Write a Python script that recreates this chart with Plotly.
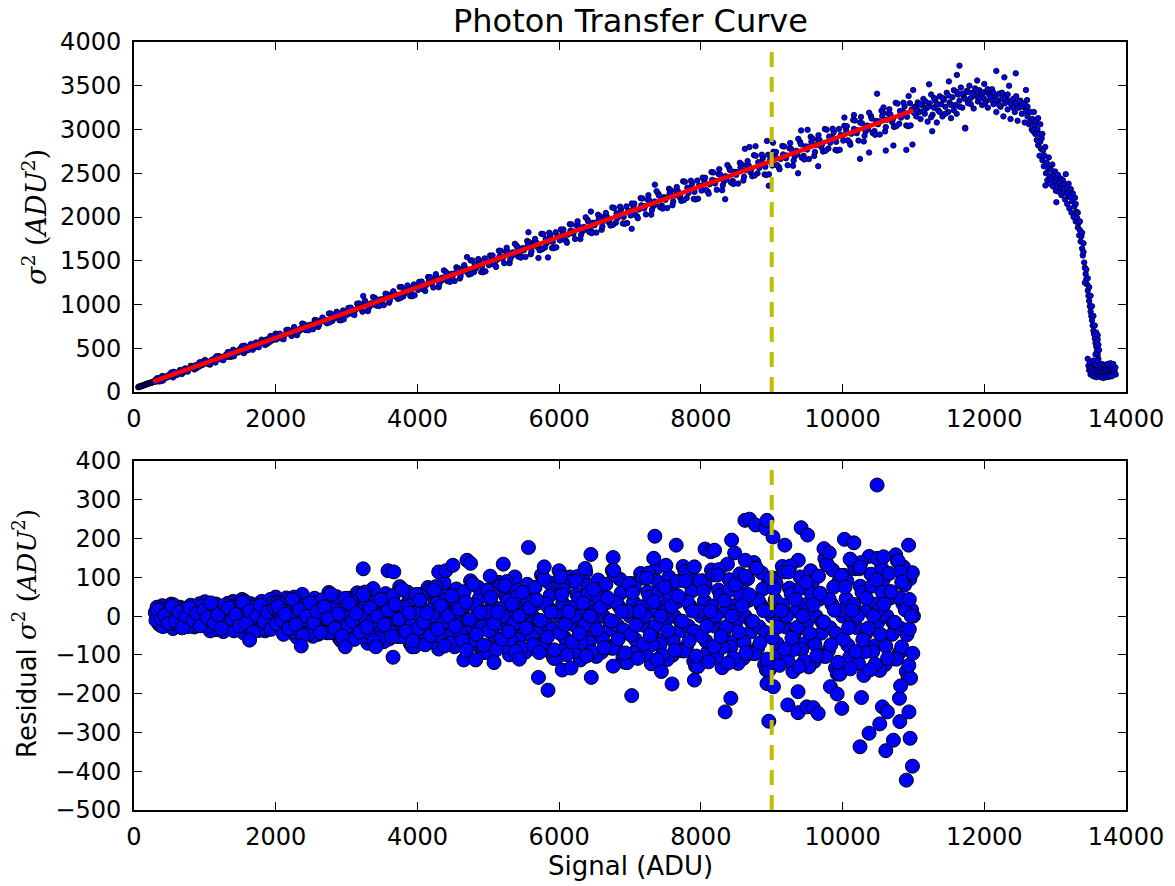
import plotly.graph_objects as go

# ---------------- Data ----------------
# Top panel: variance (ADU^2) vs signal (ADU), as (signal, variance) pairs
top_low = [(60,55),(70,62),(80,58),(90,66),(100,64),(110,72),(120,70),(130,78),(140,76),(150,84),
           (160,82),(170,90),(180,88),(190,96),(200,94),(210,101),(220,99),(230,106),(240,104),
           (250,112),(260,110),(270,118),(285,116)]
top_a = [(300,136),(350,121),(400,183),(450,164),(500,200),(550,167),(600,216),(650,251),(700,225),
         (750,254),(800,299),(850,258),(900,314),(950,304),(1000,366),(1050,320),(1100,366),(1150,337),
         (1200,410),(1250,401),(1300,428),(1350,401),(1400,483),(1450,451),(1500,496),(1550,444),
         (1600,507),(1650,549),(1700,508),(1750,541),(1800,598),(1850,537),(1900,608),(1950,590),(2000,667)]
top_a_mid = [(325,157),(375,124),(425,175),(475,168),(525,223),(575,187),(625,227),(675,205),(725,270),
             (775,264),(825,288),(875,268),(925,339),(975,315),(1025,355),(1075,313),(1125,369),(1175,407),
             (1225,374),(1275,404),(1325,456),(1375,404),(1425,469),(1475,453),(1525,524),(1575,469),
             (1625,519),(1675,483),(1725,567),(1775,553),(1825,581),(1875,549),(1925,639),(1975,601)]
top_a_e = [(310,119),(360,162),(410,131),(460,179),(510,187),(560,231),(610,197),(660,224),(710,262),
           (760,233),(810,277),(860,303),(910,285),(960,343),(1010,328),(1060,320),(1110,372),(1160,406),
           (1210,378),(1260,364),(1310,403),(1360,458),(1410,409),(1460,471),(1510,476),(1560,530),
           (1610,478),(1660,511),(1710,557),(1760,512),(1810,568),(1860,597),(1910,568),(1960,640)]
top_b = [(2050,647),(2100,611),(2150,708),(2200,665),(2250,717),(2300,650),(2350,725),(2400,773),(2450,720),
         (2500,757),(2550,823),(2600,744),(2650,830),(2700,802),(2750,896),(2800,812),(2850,877),(2900,820),
         (2950,931),(3000,907),(3050,941),(3100,889),(3150,1010),(3200,951),(3250,1014),(3300,924),(3350,1015),
         (3400,1073),(3450,1001),(3500,1045),(3550,1124),(3600,1021),(3650,1125),(3700,1086),(3750,1200),
         (3800,1092),(3850,1169),(3900,1096),(3950,1229),(4000,1196),(4050,1234),(4100,1168),(4150,1313),
         (4200,1237),(4250,1310),(4300,1198),(4350,1306),(4400,1372),(4450,1283),(4500,1332),(4550,1425),
         (4600,1298),(4650,1420),(4700,1371),(4750,1504),(4800,1372),(4850,1461),(4900,1371),(4950,1527),
         (5000,1485),(5050,1528),(5100,1446),(5150,1615),(5200,1523),(5250,1607),(5300,1472),(5350,1596),
         (5400,1672),(5450,1564),(5500,1620),(5550,1726),(5600,1575),(5650,1715),(5700,1655),(5750,1808),
         (5800,1652),(5850,1753),(5900,1647),(5950,1825),(6000,1774)]
top_b_mid = [(2025,660),(2075,614),(2125,649),(2175,711),(2225,641),(2275,719),(2325,696),(2375,782),(2425,707),
             (2475,766),(2525,718),(2575,819),(2625,799),(2675,831),(2725,785),(2775,898),(2825,844),(2875,903),
             (2925,821),(2975,907),(3025,960),(3075,896),(3125,936),(3175,1012),(3225,918),(3275,1015),
             (3325,980),(3375,1086),(3425,987),(3475,1058),(3525,993),(3575,1117),(3625,1088),(3675,1125),
             (3725,1064),(3775,1200),(3825,1130),(3875,1199),(3925,1095),(3975,1197),(4025,1259),(4075,1178),
             (4125,1224),(4175,1313),(4225,1195),(4275,1309),(4325,1265),(4375,1390),(4425,1267),(4475,1350),
             (4525,1269),(4575,1415),(4625,1377),(4675,1418),(4725,1342),(4775,1503),(4825,1416),(4875,1496),
             (4925,1369),(4975,1488),(5025,1559),(5075,1459),(5125,1511),(5175,1614),(5225,1472),(5275,1604),
             (5325,1549),(5375,1694),(5425,1547),(5475,1642),(5525,1544),(5575,1713),(5625,1666),(5675,1712),
             (5725,1620),(5775,1805),(5825,1702),(5875,1792),(5925,1643),(5975,1778)]
top_b_e = [(2010,601),(2060,666),(2110,603),(2160,674),(2210,679),(2260,742),(2310,675),(2360,711),(2410,764),
           (2460,705),(2510,771),(2560,803),(2610,764),(2660,851),(2710,817),(2760,795),(2810,871),(2860,917),
           (2910,862),(2960,831),(3010,884),(3060,964),(3110,879),(3160,966),(3210,968),(3260,1044),(3310,955),
           (3360,997),(3410,1061),(3460,982),(3510,1061),(3560,1098),(3610,1046),(3660,1151),(3710,1104),
           (3760,1074),(3810,1164),(3860,1218),(3910,1146),(3960,1105),(4010,1167),(4060,1262),(4110,1154),
           (4160,1258),(4210,1257),(4260,1347),(4310,1235),(4360,1283),(4410,1357),(4460,1259),(4510,1352),
           (4560,1393),(4610,1327),(4660,1450),(4710,1392),(4760,1352),(4810,1458),(4860,1519),(4910,1431),
           (4960,1379),(5010,1450),(5060,1560),(5110,1430),(5160,1550),(5210,1546),(5260,1649),(5310,1515),
           (5360,1569),(5410,1654),(5460,1536),(5510,1642),(5560,1688),(5610,1609),(5660,1750),(5710,1679),
           (5760,1631),(5810,1751),(5860,1820),(5910,1715),(5960,1653)]
top_c = [(6050,1821),(6100,1725),(6150,1918),(6200,1810),(6250,1902),(6300,1748),(6350,1886),(6400,1970),
         (6450,1847),(6500,1907),(6550,2026),(6600,1854),(6650,2009),(6700,1941),(6750,2109),(6800,1934),
         (6850,2044),(6900,1927),(6950,2121),(7000,2063),(7050,2113),(7100,2007),(7150,2216),(7200,2097),
         (7250,2197),(7300,2027),(7350,2176),(7400,2266),(7450,2131),(7500,2196),(7550,2323),(7600,2135),
         (7650,2302),(7700,2227),(7750,2408),(7800,2217),(7850,2335),(7900,2207),(7950,2416),(8000,2352),
         (8050,2405),(8100,2289),(8150,2514),(8200,2384),(8250,2491),(8300,2306),(8350,2466),(8400,2562),
         (8450,2415),(8500,2483),(8550,2620),(8600,2416),(8650,2595),(8700,2513),(8750,2707),(8800,2500),
         (8850,2626),(8900,2487),(8950,2711),(9000,2641),(9050,2697),(9100,2571),(9150,2812),(9200,2671),
         (9250,2785),(9300,2585),(9350,2756),(9400,2858),(9450,2699),(9500,2771),(9550,2917),(9600,2697),
         (9650,2888),(9700,2799),(9750,3006),(9800,2783),(9850,2917),(9900,2767),(9950,3006),(10000,2930),
         (10050,2989),(10100,2853),(10150,3110),(10200,2958),(10250,3079),(10300,2864),(10350,3046),
         (10400,3154),(10450,2983),(10500,3060),(10550,3214),(10600,2978),(10650,3181),(10700,3085),
         (10750,3305),(10800,3066),(10850,3208),(10900,3047),(10950,3301),(11000,3219)]
top_c_mid = [(6025,1858),(6075,1741),(6125,1799),(6175,1915),(6225,1749),(6275,1898),(6325,1834),(6375,1996),
             (6425,1829),(6475,1934),(6525,1822),(6575,2010),(6625,1955),(6675,2004),(6725,1902),(6775,2104),
             (6825,1988),(6875,2087),(6925,1922),(6975,2068),(7025,2154),(7075,2025),(7125,2087),(7175,2212),
             (7225,2030),(7275,2191),(7325,2120),(7375,2295),(7425,2112),(7475,2225),(7525,2103),(7575,2305),
             (7625,2244),(7675,2296),(7725,2184),(7775,2402),(7825,2275),(7875,2381),(7925,2201),(7975,2358),
             (8025,2450),(8075,2309),(8125,2375),(8175,2509),(8225,2311),(8275,2484),(8325,2406),(8375,2594),
             (8425,2395),(8475,2516),(8525,2382),(8575,2600),(8625,2533),(8675,2588),(8725,2466),(8775,2700),
             (8825,2562),(8875,2675),(8925,2480),(8975,2648),(9025,2746),(9075,2593),(9125,2663),(9175,2806),
             (9225,2592),(9275,2777),(9325,2692),(9375,2893),(9425,2678),(9475,2807),(9525,2662),(9575,2895),
             (9625,2822),(9675,2880),(9725,2748),(9775,2998),(9825,2849),(9875,2969),(9925,2759),(9975,2938),
             (10025,3042),(10075,2877),(10125,2951),(10175,3103),(10225,2873),(10275,3070),(10325,2978),
             (10375,3192),(10425,2961),(10475,3098),(10525,2942),(10575,3190),(10625,3111),(10675,3172),
             (10725,3030),(10775,3296),(10825,3136),(10875,3263),(10925,3038),(10975,3228)]
top_c_e = [(6010,1733),(6060,1858),(6110,1706),(6160,1842),(6210,1835),(6260,1951),(6310,1796),(6360,1855),
           (6410,1949),(6460,1815),(6510,1933),(6560,1982),(6610,1892),(6660,2047),(6710,1967),(6760,1911),
           (6810,2043),(6860,2118),(6910,2001),(6960,1931),(7010,2018),(7060,2153),(7110,1986),(7160,2133),
           (7210,2124),(7260,2249),(7310,2079),(7360,2142),(7410,2243),(7460,2096),(7510,2223),(7560,2275),
           (7610,2176),(7660,2343),(7710,2255),(7760,2193),(7810,2335),(7860,2415),(7910,2287),(7960,2210),
           (8010,2303),(8060,2448),(8110,2266),(8160,2424),(8210,2413),(8260,2547),(8310,2362),(8360,2429),
           (8410,2537),(8460,2377),(8510,2513),(8560,2568),(8610,2460),(8660,2639),(8710,2543),(8760,2475),
           (8810,2627),(8860,2712),(8910,2573),(8960,2489),(9010,2588),(9060,2743),(9110,2546),(9160,2715),
           (9210,2702),(9260,2845),(9310,2645),(9360,2716),(9410,2831),(9460,2658),(9510,2803),(9560,2861),
           (9610,2744),(9660,2935),(9710,2831),(9760,2757),(9810,2919),(9860,3009),(9910,2859),(9960,2768),
           (10010,2873),(10060,3038),(10110,2826),(10160,3006),(10210,2991),(10260,3143),(10310,2928),
           (10360,3003),(10410,3125),(10460,2939),(10510,3093),(10560,3154),(10610,3028),(10660,3231),
           (10710,3119),(10760,3039),(10810,3211),(10860,3306),(10910,3145),(10960,3047)]
top_outliers = [(3235,1097),(4700,1542),(5567,1826),(5708,1532),(5843,1538),(6448,2062),(7024,1865),
                (7351,2370),(8343,2204),(8622,2779),(8686,2800),(8772,2810),(8933,2869),(8959,2358),
                (9018,2850),(9372,2500),(9415,2989),(9506,2996),(9656,2580),(10026,3136),(10160,3165),
                (10246,2664),(10374,2736),(10487,3409),(10578,3252),(10610,2759),(10717,2817),
                (10900,2767),(10932,3382),(10986,2828)]
top_peak = [(11020,3260),(11040,3150),(11060,3310),(11080,3200),(11100,3120),(11120,3280),(11140,3350),
            (11160,3180),(11180,3240),(11200,3090),(11230,3300),(11250,3400),(11270,3170),(11290,3250),
            (11310,3330),(11330,3080),(11350,3220),(11370,3380),(11390,3290),(11410,3150),(11430,3340),
            (11450,3260),(11470,3420),(11490,3200),(11510,3310),(11530,3130),(11550,3370),(11570,3450),
            (11590,3280),(11610,3180),(11630,3400),(11650,3330),(11670,3480),(11690,3250),(11710,3380),
            (11730,3020),(11750,3440),(11770,3300),(11790,3500),(11810,3360),(11830,3420),(11850,3240),
            (11870,3470),(11890,3380),(11910,3320),(11930,3450),(11950,3400),(11970,3280),(11990,3360),
            (12010,3430),(12030,3330),(12050,3250),(12070,3400),(12090,3340),(12110,3460),(12130,3290),
            (12150,3380),(12170,3200),(12190,3320),(12210,3410),(12230,3260),(12250,3350),(12270,3150),
            (12290,3300),(12310,3390),(12330,3230),(12350,3330),(12370,3120),(12390,3280),(12410,3350),
            (12430,3200),(12450,3300),(12470,3100),(12490,3250),(12510,3330),(12530,3180),(12550,3260),
            (12570,3080),(12590,3210),(12610,3150),(12630,3060),(12650,3200),(12670,3000)]
top_peak_mid = [(11010,3190),(11050,3230),(11090,3290),(11130,3210),(11170,3320),(11210,3260),(11250,3140),
                (11290,3360),(11330,3290),(11370,3200),(11410,3360),(11450,3180),(11490,3390),(11530,3280),
                (11570,3220),(11610,3430),(11650,3260),(11690,3410),(11730,3350),(11770,3430),(11810,3290),
                (11850,3400),(11890,3450),(11930,3350),(11970,3420),(12010,3300),(12050,3460),(12090,3380),
                (12130,3420),(12170,3340),(12210,3280),(12250,3420),(12290,3360),(12330,3400),(12370,3300),
                (12410,3250),(12450,3380),(12490,3320),(12530,3270),(12570,3300),(12610,3260),(12650,3100),
                (11650,3730),(11613,3623),(12170,3669),(12283,3596),(12444,3642),(12588,3451),(12604,3336),
                (11731,3011),(11265,2980),(11500,3550),(11900,3560),(12000,3520),(12350,3500),(11221,3516),
                (10996,3451)]
top_roll = [(12680,3120),(12690,2980),(12700,3200),(12710,3050),(12720,2950),(12730,3100),(12740,2880),
            (12750,3000),(12760,2820),(12770,2950),(12780,2700),(12790,2860),(12800,2780),(12810,2900),
            (12820,2650),(12830,2760),(12840,2580),(12850,2700),(12860,2800),(12870,2500),(12880,2620),
            (12890,2420),(12900,2560),(12910,2680),(12920,2470),(12930,2380),(12940,2540),(12950,2450),
            (12960,2600),(12970,2350),(12980,2480),(12990,2410),(13000,2520),(13010,2300),(13020,2450),
            (13030,2370),(13040,2480),(13050,2290),(13060,2400),(13070,2330),(13080,2440),(13090,2250),
            (13100,2360),(13110,2420),(13120,2280),(13130,2380),(13140,2200),(13150,2490),(13160,2320),
            (13170,2150),(13180,2260),(13190,2380),(13200,2100),(13210,2230),(13220,2320),(13230,2050),
            (13240,2180),(13250,2270),(13260,2000),(13270,2120),(13280,2220),(13290,1950),(13300,2060),
            (13310,1990),(13320,1880),(13330,1930),(13340,1790),(13350,1850),(13360,1720),(13370,1780),
            (13380,1640),(13390,1560),(13400,1600),(13410,1480),(13420,1420),(13430,1350),(13440,1290),
            (13450,1230),(13460,1160),(13470,1100),(13480,1040),(13490,980),(13500,920),(13510,870),
            (13520,820),(13530,760),(13540,700),(13550,660),(13560,610),(13570,560),(13580,520),
            (13590,470),(13600,430)]
top_roll_mid = [(13420,1250),(13440,1400),(13460,1300),(13480,1200),(13500,1100),(13520,980),(13540,870),
                (13560,760),(13580,680),(13600,600),(13610,540),(13620,480),(13350,1950),(13380,1820),
                (13400,1700),(13320,2050),(13290,2150),(13017,2169),(12863,2361),(13600,650),(13610,380),
                (13570,430),(12790,3060),(12820,2950),(12760,3130)]
top_floor = [(13460,380),(13470,300),(13480,250),(13490,340),(13500,200),(13510,280),(13520,230),(13530,330),
             (13540,180),(13550,260),(13560,210),(13570,300),(13580,170),(13590,240),(13600,200),(13610,280),
             (13620,190),(13630,250),(13640,220),(13650,290),(13660,200),(13670,260),(13680,230),(13690,180),
             (13700,270),(13710,220),(13720,250),(13730,190),(13740,280),(13750,230),(13760,260),(13770,200),
             (13780,300),(13790,240),(13800,270),(13810,210),(13820,290),(13830,250),(13840,230),(13850,280),
             (13855,200),(13580,310),(13620,330),(13660,320),(13700,310),(13740,320),(13780,330),(13820,320),
             (13540,360),(13600,360),(13640,170),(13680,160),(13720,170),(13760,175),(13800,180)]

# Linear fit drawn in red (endpoints of the fitted segment)
fit_signal = [270, 11000]
fit_variance = [118, 3219]

# Cut-off signal marked by the dashed yellow line
cutoff_signal = 9000

# Bottom panel: residual variance (ADU^2) vs signal (ADU), as (signal, residual) pairs
res_a = [(300,9),(350,-20),(400,27),(450,-6),(500,15),(550,-32),(600,3),(650,23),(700,-17),(750,-3),
         (800,28),(850,-28),(900,14),(950,-11),(1000,37),(1050,-23),(1100,8),(1150,-35),(1200,23),(1250,0),
         (1300,12),(1350,-29),(1400,38),(1450,-8),(1500,22),(1550,-44),(1600,5),(1650,32),(1700,-23),
         (1750,-5),(1800,38),(1850,-38),(1900,19),(1950,-14),(2000,49)]
res_a_mid = [(325,23),(375,-24),(425,12),(475,-9),(525,31),(575,-19),(625,6),(675,-30),(725,20),(775,0),
             (825,10),(875,-25),(925,32),(975,-7),(1025,19),(1075,-38),(1125,4),(1175,27),(1225,-20),
             (1275,-4),(1325,33),(1375,-33),(1425,17),(1475,-13),(1525,43),(1575,-26),(1625,9),(1675,-41),
             (1725,28),(1775,0),(1825,14),(1875,-33),(1925,43),(1975,-10)]
res_a_e = [(310,-11),(360,18),(410,-27),(460,6),(510,0),(560,29),(610,-19),(660,-7),(710,17),(760,-27),
           (810,3),(860,14),(910,-18),(960,26),(1010,-4),(1060,-26),(1110,11),(1160,31),(1210,-12),(1260,-40),
           (1310,-16),(1360,25),(1410,-38),(1460,9),(1510,0),(1560,39),(1610,-27),(1660,-9),(1710,23),
           (1760,-37),(1810,5),(1860,19),(1910,-24),(1960,34)]
res_a_f = [(335,15),(385,-6),(435,3),(485,-18),(535,25),(585,-13),(635,10),(685,-30),(735,0),(785,21),
           (835,-11),(885,7),(935,-25),(985,15),(1035,-4),(1085,34),(1135,-19),(1185,4),(1235,-32),(1285,28),
           (1335,21),(1385,-8),(1435,4),(1485,-26),(1535,35),(1585,-18),(1635,13),(1685,-41),(1735,0),
           (1785,28),(1835,-14),(1885,10),(1935,-34),(1985,20)]
res_b = [(2050,15),(2100,-36),(2150,47),(2200,-11),(2250,27),(2300,-55),(2350,6),(2400,39),(2450,-28),
         (2500,-6),(2550,46),(2600,-47),(2650,24),(2700,-18),(2750,61),(2800,-37),(2850,13),(2900,-58),
         (2950,38),(3000,0),(3050,20),(3100,-47),(3150,60),(3200,-14),(3250,35),(3300,-70),(3350,7),
         (3400,50),(3450,-36),(3500,-7),(3550,58),(3600,-59),(3650,30),(3700,-23),(3750,76),(3800,-46),
         (3850,16),(3900,-71),(3950,47),(4000,0),(4050,24),(4100,-57),(4150,74),(4200,-17),(4250,42),
         (4300,-85),(4350,9),(4400,60),(4450,-43),(4500,-9),(4550,70),(4600,-71),(4650,36),(4700,-27),
         (4750,91),(4800,-55),(4850,19),(4900,-85),(4950,56),(5000,0),(5050,29),(5100,-68),(5150,87),
         (5200,-20),(5250,50),(5300,-100),(5350,10),(5400,71),(5450,-51),(5500,-10),(5550,82),(5600,-83),
         (5650,42),(5700,-32),(5750,106),(5800,-64),(5850,22),(5900,-98),(5950,65),(6000,0)]
res_b_mid = [(2025,35),(2075,-26),(2125,-5),(2175,42),(2225,-42),(2275,22),(2325,-16),(2375,56),(2425,-34),
             (2475,11),(2525,-52),(2575,35),(2625,0),(2675,18),(2725,-43),(2775,56),(2825,-12),(2875,32),
             (2925,-64),(2975,7),(3025,46),(3075,-33),(3125,-7),(3175,54),(3225,-54),(3275,28),(3325,-21),
             (3375,71),(3425,-43),(3475,14),(3525,-66),(3575,44),(3625,0),(3675,23),(3725,-53),(3775,69),
             (3825,-15),(3875,39),(3925,-79),(3975,8),(4025,56),(4075,-40),(4125,-8),(4175,66),(4225,-66),
             (4275,34),(4325,-25),(4375,86),(4425,-52),(4475,17),(4525,-79),(4575,53),(4625,0),(4675,27),
             (4725,-64),(4775,83),(4825,-18),(4875,47),(4925,-94),(4975,10),(5025,67),(5075,-48),(5125,-10),
             (5175,78),(5225,-78),(5275,40),(5325,-30),(5375,101),(5425,-61),(5475,20),(5525,-93),(5575,62),
             (5625,0),(5675,32),(5725,-74),(5775,96),(5825,-21),(5875,54),(5925,-109),(5975,11)]
res_b_e = [(2010,-20),(2060,31),(2110,-47),(2160,10),(2210,0),(2260,49),(2310,-33),(2360,-11),(2410,28),
           (2460,-46),(2510,6),(2560,23),(2610,-30),(2660,42),(2710,-6),(2760,-43),(2810,19),(2860,50),
           (2910,-19),(2960,-64),(3010,-26),(3060,40),(3110,-60),(3160,13),(3210,0),(3260,62),(3310,-42),
           (3360,-14),(3410,36),(3460,-58),(3510,7),(3560,29),(3610,-37),(3660,53),(3710,-8),(3760,-53),
           (3810,23),(3860,62),(3910,-24),(3960,-79),(4010,-32),(4060,49),(4110,-74),(4160,16),(4210,0),
           (4260,76),(4310,-51),(4360,-17),(4410,43),(4460,-70),(4510,9),(4560,35),(4610,-45),(4660,63),
           (4710,-9),(4760,-64),(4810,28),(4860,74),(4910,-28),(4960,-94),(5010,-38),(5060,58),(5110,-87),
           (5160,19),(5210,0),(5260,89),(5310,-60),(5360,-20),(5410,51),(5460,-82),(5510,10),(5560,41),
           (5610,-52),(5660,74),(5710,-11),(5760,-74),(5810,32),(5860,86),(5910,-33),(5960,-109)]
res_b_f = [(2035,25),(2085,-10),(2135,5),(2185,-32),(2235,43),(2285,-22),(2335,17),(2385,-50),(2435,0),
           (2485,34),(2535,-17),(2585,12),(2635,-42),(2685,24),(2735,-6),(2785,56),(2835,-32),(2885,6),
           (2935,-51),(2985,46),(3035,33),(3085,-13),(3135,7),(3185,-41),(3235,55),(3285,-28),(3335,21),
           (3385,-64),(3435,0),(3485,43),(3535,-22),(3585,15),(3635,-53),(3685,30),(3735,-8),(3785,69),
           (3835,-39),(3885,8),(3935,-63),(3985,56),(4035,41),(4085,-16),(4135,8),(4185,-50),(4235,67),
           (4285,-34),(4335,26),(4385,-77),(4435,0),(4485,52),(4535,-26),(4585,18),(4635,-63),(4685,36),
           (4735,-9),(4785,83),(4835,-47),(4885,9),(4935,-75),(4985,67),(5035,48),(5085,-19),(5135,10),
           (5185,-59),(5235,79),(5285,-40),(5335,30),(5385,-91),(5435,0),(5485,61),(5535,-31),(5585,21),
           (5635,-74),(5685,42),(5735,-11),(5785,96),(5835,-54),(5885,11),(5935,-87),(5985,77)]
res_c = [(6050,33),(6100,-78),(6150,101),(6200,-22),(6250,56),(6300,-113),(6350,11),(6400,80),(6450,-57),
         (6500,-12),(6550,93),(6600,-93),(6650,47),(6700,-35),(6750,118),(6800,-71),(6850,24),(6900,-107),
         (6950,72),(7000,0),(7050,36),(7100,-85),(7150,110),(7200,-24),(7250,62),(7300,-123),(7350,12),
         (7400,87),(7450,-62),(7500,-12),(7550,101),(7600,-101),(7650,51),(7700,-38),(7750,128),(7800,-77),
         (7850,26),(7900,-116),(7950,78),(8000,0),(8050,39),(8100,-92),(8150,119),(8200,-26),(8250,67),
         (8300,-133),(8350,13),(8400,94),(8450,-67),(8500,-14),(8550,109),(8600,-109),(8650,55),(8700,-41),
         (8750,138),(8800,-83),(8850,28),(8900,-125),(8950,84),(9000,0),(9050,42),(9100,-99),(9150,128),
         (9200,-28),(9250,72),(9300,-143),(9350,14),(9400,101),(9450,-72),(9500,-15),(9550,117),(9600,-117),
         (9650,59),(9700,-44),(9750,148),(9800,-89),(9850,30),(9900,-134),(9950,90),(10000,0),(10050,45),
         (10100,-106),(10150,137),(10200,-30),(10250,77),(10300,-153),(10350,15),(10400,108),(10450,-77),
         (10500,-15),(10550,125),(10600,-125),(10650,63),(10700,-47),(10750,158),(10800,-95),(10850,32),
         (10900,-143),(10950,96),(11000,0)]
res_c_mid = [(6025,77),(6075,-55),(6125,-11),(6175,90),(6225,-90),(6275,45),(6325,-34),(6375,114),(6425,-68),
             (6475,23),(6525,-104),(6575,70),(6625,0),(6675,35),(6725,-82),(6775,106),(6825,-24),(6875,60),
             (6925,-119),(6975,12),(7025,84),(7075,-60),(7125,-12),(7175,98),(7225,-98),(7275,49),(7325,-37),
             (7375,124),(7425,-74),(7475,25),(7525,-112),(7575,76),(7625,0),(7675,38),(7725,-89),(7775,115),
             (7825,-26),(7875,65),(7925,-129),(7975,13),(8025,91),(8075,-65),(8125,-13),(8175,106),(8225,-106),
             (8275,53),(8325,-40),(8375,134),(8425,-80),(8475,27),(8525,-122),(8575,82),(8625,0),(8675,41),
             (8725,-96),(8775,124),(8825,-28),(8875,70),(8925,-139),(8975,14),(9025,98),(9075,-70),(9125,-14),
             (9175,114),(9225,-114),(9275,57),(9325,-43),(9375,144),(9425,-86),(9475,29),(9525,-131),(9575,88),
             (9625,0),(9675,44),(9725,-103),(9775,133),(9825,-30),(9875,75),(9925,-149),(9975,15),(10025,105),
             (10075,-75),(10125,-15),(10175,122),(10225,-122),(10275,61),(10325,-46),(10375,154),(10425,-92),
             (10475,31),(10525,-140),(10575,94),(10625,0),(10675,47),(10725,-110),(10775,142),(10825,-32),
             (10875,80),(10925,-159),(10975,16)]
res_c_e = [(6010,-44),(6060,67),(6110,-100),(6160,22),(6210,0),(6260,102),(6310,-68),(6360,-23),(6410,57),
           (6460,-92),(6510,12),(6560,46),(6610,-58),(6660,82),(6710,-12),(6760,-83),(6810,35),(6860,95),
           (6910,-36),(6960,-120),(7010,-48),(7060,73),(7110,-109),(7160,24),(7210,0),(7260,111),(7310,-74),
           (7360,-25),(7410,62),(7460,-100),(7510,13),(7560,50),(7610,-63),(7660,89),(7710,-13),(7760,-90),
           (7810,38),(7860,103),(7910,-39),(7960,-130),(8010,-52),(8060,79),(8110,-118),(8160,26),(8210,0),
           (8260,120),(8310,-80),(8360,-27),(8410,67),(8460,-108),(8510,14),(8560,54),(8610,-68),(8660,96),
           (8710,-14),(8760,-97),(8810,41),(8860,111),(8910,-42),(8960,-140),(9010,-56),(9060,85),(9110,-127),
           (9160,28),(9210,0),(9260,129),(9310,-86),(9360,-29),(9410,72),(9460,-116),(9510,15),(9560,58),
           (9610,-73),(9660,103),(9710,-15),(9760,-104),(9810,44),(9860,119),(9910,-45),(9960,-150),
           (10010,-60),(10060,91),(10110,-136),(10160,30),(10210,0),(10260,138),(10310,-92),(10360,-31),
           (10410,77),(10460,-124),(10510,16),(10560,62),(10610,-78),(10660,110),(10710,-16),(10760,-111),
           (10810,47),(10860,127),(10910,-48),(10960,-160)]
res_c_f = [(6035,55),(6085,-22),(6135,11),(6185,-67),(6235,90),(6285,-45),(6335,34),(6385,-103),(6435,0),
           (6485,69),(6535,-35),(6585,23),(6635,-81),(6685,47),(6735,-12),(6785,106),(6835,-59),(6885,12),
           (6935,-95),(6985,84),(7035,60),(7085,-24),(7135,12),(7185,-73),(7235,98),(7285,-49),(7335,37),
           (7385,-112),(7435,0),(7485,75),(7535,-38),(7585,25),(7635,-88),(7685,51),(7735,-13),(7785,115),
           (7835,-64),(7885,13),(7935,-103),(7985,91),(8035,65),(8085,-26),(8135,13),(8185,-79),(8235,106),
           (8285,-53),(8335,40),(8385,-121),(8435,0),(8485,81),(8535,-41),(8585,27),(8635,-95),(8685,55),
           (8735,-14),(8785,124),(8835,-69),(8885,14),(8935,-111),(8985,98),(9035,70),(9085,-28),(9135,14),
           (9185,-85),(9235,114),(9285,-57),(9335,43),(9385,-130),(9435,0),(9485,87),(9535,-44),(9585,29),
           (9635,-102),(9685,59),(9735,-15),(9785,133),(9835,-74),(9885,15),(9935,-119),(9985,105),
           (10035,75),(10085,-30),(10135,15),(10185,-91),(10235,122),(10285,-61),(10335,46),(10385,-139),
           (10435,0),(10485,93),(10535,-47),(10585,31),(10635,-109),(10685,63),(10735,-16),(10785,142),
           (10835,-79),(10885,16),(10935,-127),(10985,112)]
res_outliers = [(1631,-62),(2360,-77),(2981,-79),(3235,122),(3413,-79),(3585,117),(3667,114),(3656,-106),
                (4300,114),(4400,117),(4500,131),(4700,144),(4750,136),(4655,-113),(4822,-113),(4693,-88),
                (5027,103),(5081,-120),(5211,134),(5438,-111),(5567,177),(5708,-158),(5719,-94),(5789,127),
                (5843,-191),(5999,117),(6020,101),(6043,-139),(6167,-134),(6367,123),(6448,159),(6454,-158),
                (6762,151),(6771,118),(6762,-129),(7024,-205),(7335,149),(7351,206),(7443,-143),(7507,131),
                (7593,-175),(7652,183),(7780,90),(7909,127),(7909,-165),(8059,173),(8139,166),(8193,170),
                (8343,-247),(8423,-212),(8434,196),(8477,163),(8622,247),(8627,144),(8627,103),(8686,250),
                (8772,235),(8917,226),(8933,247),(8933,-174),(8959,-271),(9018,204),(9024,-182),(9185,183),
                (9227,-229),(9372,-249),(9372,-195),(9415,228),(9495,-234),(9506,209),(9587,-236),(9656,-251),
                (9737,174),(9812,163),(9828,-182),(9924,-201),(9989,-238),(10026,198),(10106,147),(10160,189),
                (10246,127),(10246,-337),(10267,-210),(10374,-302),(10487,149),(10487,338),(10525,-278),
                (10562,-234),(10578,153),(10610,-347),(10632,-247),(10717,-320),(10803,-212),(10808,-272),
                (10819,114),(10819,-180),(10835,88),(10900,-423),(10932,183),(10937,-247),(10942,-34),
                (10942,43),(10953,-315),(10969,0),(10986,-387),(10991,-96)]

x_ticks = [0, 2000, 4000, 6000, 8000, 10000, 12000, 14000]
top_y_ticks = [0, 500, 1000, 1500, 2000, 2500, 3000, 3500, 4000]
bottom_y_ticks = [-500, -400, -300, -200, -100, 0, 100, 200, 300, 400]


def unzip(*segments):
    xs, ys = [], []
    for seg in segments:
        for a, b in seg:
            xs.append(a)
            ys.append(b)
    return xs, ys


top_x, top_y = unzip(top_low, top_a, top_a_mid, top_a_e, top_b, top_b_mid, top_b_e,
                     top_c, top_c_mid, top_c_e, top_outliers,
                     top_peak, top_peak_mid, top_roll, top_roll_mid, top_floor)
res_x, res_y = unzip(res_a, res_a_mid, res_a_e, res_a_f, res_b, res_b_mid, res_b_e, res_b_f,
                     res_c, res_c_mid, res_c_e, res_c_f, res_outliers)

BLUE = "#0000ff"
YELLOW = "#bfbf00"
FONT = "DejaVu Sans"

fig = go.Figure()

fig.add_trace(go.Scatter(
    x=top_x, y=top_y, mode="markers", xaxis="x", yaxis="y",
    marker=dict(size=5.5, color=BLUE, line=dict(color="black", width=0.8)),
    hoverinfo="skip"))
fig.add_trace(go.Scatter(
    x=fit_signal, y=fit_variance, mode="lines", xaxis="x", yaxis="y",
    line=dict(color="#ff0000", width=4.5), hoverinfo="skip"))
fig.add_trace(go.Scatter(
    x=[cutoff_signal, cutoff_signal], y=[top_y_ticks[0], top_y_ticks[-1]], mode="lines",
    xaxis="x", yaxis="y", line=dict(color=YELLOW, width=4, dash="15px,10px"), hoverinfo="skip"))

fig.add_trace(go.Scatter(
    x=res_x, y=res_y, mode="markers", xaxis="x2", yaxis="y2",
    marker=dict(size=14, color=BLUE, line=dict(color="black", width=1)),
    hoverinfo="skip"))
fig.add_trace(go.Scatter(
    x=[cutoff_signal, cutoff_signal], y=[bottom_y_ticks[0], bottom_y_ticks[-1]], mode="lines",
    xaxis="x2", yaxis="y2", line=dict(color=YELLOW, width=4, dash="15px,10px"), hoverinfo="skip"))

axis_common = dict(
    showline=True, linecolor="black", linewidth=2, mirror="ticks",
    ticks="inside", ticklen=8, tickwidth=1, tickcolor="black",
    showgrid=False, zeroline=False, exponentformat="none", tickformat="d",
    tickfont=dict(family=FONT, size=24, color="black"),
)

fig.update_layout(
    width=1175, height=886,
    margin=dict(l=134, r=49, t=42, b=76),
    paper_bgcolor="white", plot_bgcolor="white",
    showlegend=False,
    font=dict(family=FONT, size=24, color="black"),
    xaxis=dict(domain=[0, 1], anchor="y", range=[0, 14000], tickvals=x_ticks,
               ticklabelstandoff=4, **axis_common),
    yaxis=dict(domain=[418 / 768, 1], anchor="x", range=[0, 4000], tickvals=top_y_ticks,
               ticklabelstandoff=6, **axis_common),
    xaxis2=dict(domain=[0, 1], anchor="y2", range=[0, 14000], tickvals=x_ticks,
                ticklabelstandoff=4, **axis_common),
    yaxis2=dict(domain=[0, 349 / 768], anchor="x2", range=[-500, 400], tickvals=bottom_y_ticks,
                ticklabelstandoff=6, **axis_common),
)

math_label = ('<span style="font-family:DejaVu Serif"><i>σ</i><sup>2</sup> '
              '(<i>ADU</i><sup>2</sup>)</span>')

fig.add_annotation(text="Photon Transfer Curve", xref="paper", yref="paper",
                   x=0.5, y=(810 - 21) / 768, xanchor="center", yanchor="middle",
                   showarrow=False, font=dict(family=FONT, size=32, color="black"))
fig.add_annotation(text=math_label, xref="paper", yref="paper",
                   x=(34 - 134) / 992, y=(810 - 217) / 768, xanchor="center", yanchor="middle",
                   textangle=-90, showarrow=False, font=dict(family=FONT, size=27, color="black"))
fig.add_annotation(text="Residual " + math_label, xref="paper", yref="paper",
                   x=(25 - 134) / 992, y=(810 - 634) / 768, xanchor="center", yanchor="middle",
                   textangle=-90, showarrow=False, font=dict(family=FONT, size=26, color="black"))
fig.add_annotation(text="Signal (ADU)", xref="paper", yref="paper",
                   x=0.5, y=(810 - 866) / 768, xanchor="center", yanchor="middle",
                   showarrow=False, font=dict(family=FONT, size=26, color="black"))

fig.write_html("out.html")
